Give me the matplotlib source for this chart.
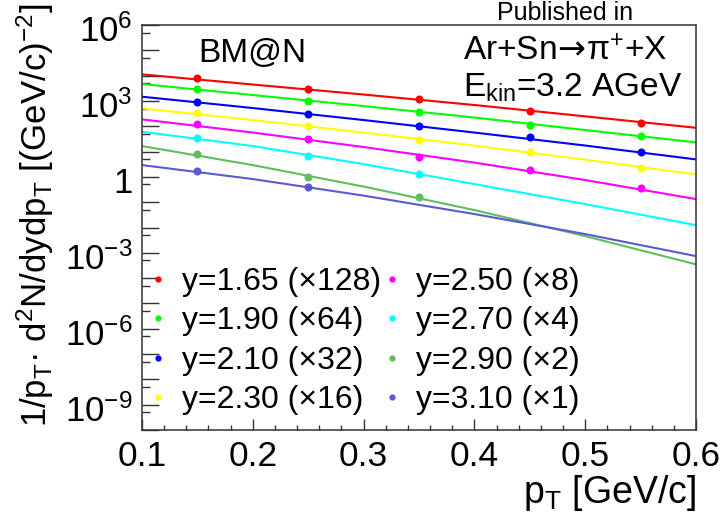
import matplotlib
matplotlib.use("Agg")
import math
import matplotlib.pyplot as plt
from matplotlib.ticker import FixedLocator, FuncFormatter
from matplotlib.lines import Line2D
from matplotlib.transforms import ScaledTranslation

plt.rcParams['font.family'] = ['Liberation Sans', 'DejaVu Sans']
plt.rcParams['mathtext.fontset'] = 'custom'
plt.rcParams['mathtext.rm'] = 'Liberation Sans'
plt.rcParams['mathtext.it'] = 'Liberation Sans'
plt.rcParams['mathtext.bf'] = 'Liberation Sans:bold'
plt.rcParams['mathtext.sf'] = 'DejaVu Sans'
plt.rcParams['mathtext.default'] = 'regular'
plt.rcParams['mathtext.fallback'] = 'stixsans'

# ---------------- data ----------------
rapidity = ["1.65", "1.90", "2.10", "2.30", "2.50", "2.70", "2.90", "3.10"]
scale = [128, 64, 32, 16, 8, 4, 2, 1]
colors = ['#ff0000', '#00ff00', '#0000ff', '#ffff00',
          '#ff00ff', '#00ffff', '#5fbf5f', '#5a5ad6']

pt_pts = [0.15, 0.25, 0.35, 0.45, 0.55]
pts_165 = [7.8e3, 2.9e3, 1.16e3, 410, 137]
pts_190 = [2.9e3, 1.02e3, 374, 111, 42]
pts_210 = [929, 303, 102, 38.5, 9.8]
pts_230 = [324, 105, 28.5, 9.5, 2.3]
pts_250 = [119, 30.3, 6.2, 1.9, 0.35]
pts_270 = [33.3, 6.8, 1.26]
pts_290 = [8.0, 1.0, 0.163]
pts_310 = [1.74, 0.385]

pt_fit = [0.1, 0.2, 0.3, 0.4, 0.5, 0.6]
fit_165 = [1.12e4, 4.45e3, 1.79e3, 690, 246, 87]
fit_190 = [4.66e3, 1.71e3, 628, 221, 70.8, 23.1]
fit_210 = [1.47e3, 524, 176, 56.4, 17.3, 4.9]
fit_230 = [510, 176, 56.4, 17.3, 4.8, 1.26]
fit_250 = [187, 56.4, 15.1, 3.67, 0.75, 0.133]
fit_270 = [60.7, 16.5, 3.2, 0.52, 0.084, 0.0124]
fit_290 = [16.5, 2.92, 0.414, 0.0488, 0.00457, 3.5e-4]
fit_310 = [2.92, 0.82, 0.182, 0.034, 0.0055, 7.4e-4]

points = [pts_165, pts_190, pts_210, pts_230, pts_250, pts_270, pts_290, pts_310]
fits = [fit_165, fit_190, fit_210, fit_230, fit_250, fit_270, fit_290, fit_310]

x_ticks = [0.1, 0.2, 0.3, 0.4, 0.5, 0.6]
y_decades = list(range(-10, 7))

# ---------------- figure ----------------
fig = plt.figure(figsize=(7.24, 5.19), dpi=100)
ax = fig.add_axes([142 / 724, 89 / 519, 554 / 724, 405 / 519])

for f, p, c in zip(fits, points, colors):
    ax.plot(pt_fit, f, color=c, lw=1.5, zorder=2)
    ax.plot(pt_pts[:len(p)], p, 'o', color=c, ms=5.8, mec='none', zorder=3)

ax.set_yscale('log')
ax.set_xlim(0.1, 0.6)
ax.set_ylim(1e-10, 1e6)

ax.xaxis.set_major_locator(FixedLocator(x_ticks))
ax.xaxis.set_minor_locator(FixedLocator([0.1 + 0.02 * i for i in range(26)]))
ax.xaxis.set_major_formatter(FuncFormatter(lambda v, p: f"{v:.1f}"))

ax.yaxis.set_major_locator(FixedLocator([10.0 ** k for k in y_decades]))
ax.yaxis.set_minor_locator(FixedLocator([5 * 10.0 ** k for k in range(-11, 6)]))


def ylab(v, p):
    k = int(round(math.log10(v)))
    if k % 3 != 0:
        return ""
    if k == 0:
        return "1"
    return "$10^{%d}$" % k


ax.yaxis.set_major_formatter(FuncFormatter(ylab))
ax.yaxis.set_minor_formatter(FuncFormatter(lambda v, p: ""))

ax.tick_params(axis='both', which='both', direction='in', top=False, right=False,
               color='#333333', width=1.0)
ax.tick_params(axis='x', which='major', length=8, labelsize=25.5, pad=7)
ax.tick_params(axis='x', which='minor', length=3.6)
ax.tick_params(axis='y', which='major', length=12, labelsize=25, pad=7)
ax.tick_params(axis='y', which='minor', length=5.8)
for s in ax.spines.values():
    s.set_linewidth(1.1)
    s.set_color('#333333')

shift = ScaledTranslation(0, -3 / 100, fig.dpi_scale_trans)
for t in ax.yaxis.get_major_ticks():
    t.label1.set_transform(t.label1.get_transform() + shift)

# ---------------- legend ----------------
handles = [Line2D([], [], ls='none', marker='o', color=c, ms=4.5, mec='none')
           for c in colors]
labels = [f"y={r} (\u00d7{s})" for r, s in zip(rapidity, scale)]
ax.legend(handles, labels, ncol=2, loc='upper left',
          bbox_to_anchor=(0.012, 0.402), frameon=False, fontsize=23,
          handlelength=0.6, handletextpad=0.45, columnspacing=0.05,
          labelspacing=0.29, borderpad=0, borderaxespad=0)

# ---------------- texts ----------------
fig.text(198 / 724, 1 - 62 / 519, "BM@N", fontsize=24, va='baseline')
fig.text(463 / 724, 1 - 60 / 519, "Ar+Sn$\\!\\mathsf{\\rightarrow}\\!\\pi^{+}$+X",
         fontsize=24, va='baseline')
fig.text(463 / 724, 1 - 97 / 519, "E$_{kin}$=3.2 AGeV", fontsize=24, va='baseline')
fig.text(497 / 724, 1 - 1 / 519, "Published in", fontsize=18, va='top')

fig.text(35 / 724, 1 - 215 / 519,
         "1/p$_{T}$\u00b7 d$^{2}$N/dydp$_{T}$ [(GeV/c)$^{-2}$]",
         fontsize=25, rotation=90, ha='center', va='center')
fig.text(696 / 724, 1 - 503 / 519, "p$_{T}$ [GeV/c]", fontsize=27,
         ha='right', va='baseline')

fig.savefig("out.png", dpi=100)
